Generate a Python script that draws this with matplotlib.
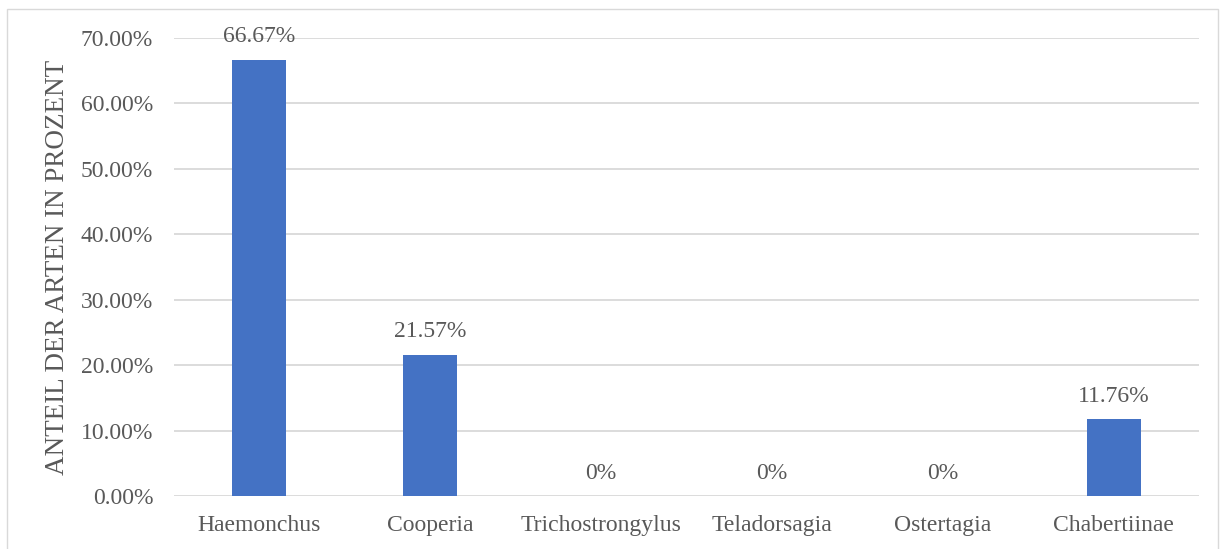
import matplotlib
matplotlib.use("Agg")
import matplotlib.pyplot as plt
from matplotlib.patches import Rectangle
from matplotlib.ticker import FuncFormatter

categories = ["Haemonchus", "Cooperia", "Trichostrongylus", "Teladorsagia", "Ostertagia", "Chabertiinae"]
values = [66.67, 21.57, 0, 0, 0, 11.76]
labels = ["66.67%", "21.57%", "0%", "0%", "0%", "11.76%"]

plt.rcParams['font.family'] = ['Liberation Serif', 'DejaVu Serif']
gray = "#595959"

fig = plt.figure(figsize=(12.28, 5.49), dpi=100)
ax = fig.add_axes([0.1417, 0.0965, 0.8347, 0.8343])

x = range(len(categories))
bars = ax.bar(x, values, width=0.316, color="#4472C4", zorder=3)
ax.set_xlim(-0.5, len(categories) - 0.5)
ax.set_ylim(0, 70)
ax.set_yticks(range(0, 71, 10))
ax.yaxis.set_major_formatter(FuncFormatter(lambda v, p: f"{v:.2f}%"))
ax.set_xticks(list(x))
ax.set_xticklabels(categories)
ax.tick_params(axis='both', length=0, labelsize=17, colors=gray)
ax.tick_params(axis='y', pad=15)
ax.tick_params(axis='x', pad=14)
ax.grid(axis='y', color="#D9D9D9", linewidth=1.3, zorder=0)
for s in ax.spines.values():
    s.set_visible(False)
ax.set_ylabel("ANTEIL DER ARTEN IN PROZENT", fontsize=19.5, color=gray, labelpad=8)

for xi, v, lab in zip(x, values, labels):
    ax.annotate(lab, (xi, v), xytext=(0, 9), textcoords="offset points",
                ha="center", va="bottom", fontsize=17, color=gray)

fig.patches.append(Rectangle((7 / 1228, -0.01), (1218 - 7) / 1228, 1 - 9 / 549 + 0.01,
                             transform=fig.transFigure, fill=False,
                             edgecolor="#D9D9D9", linewidth=1))

fig.savefig("out.png", dpi=100)
